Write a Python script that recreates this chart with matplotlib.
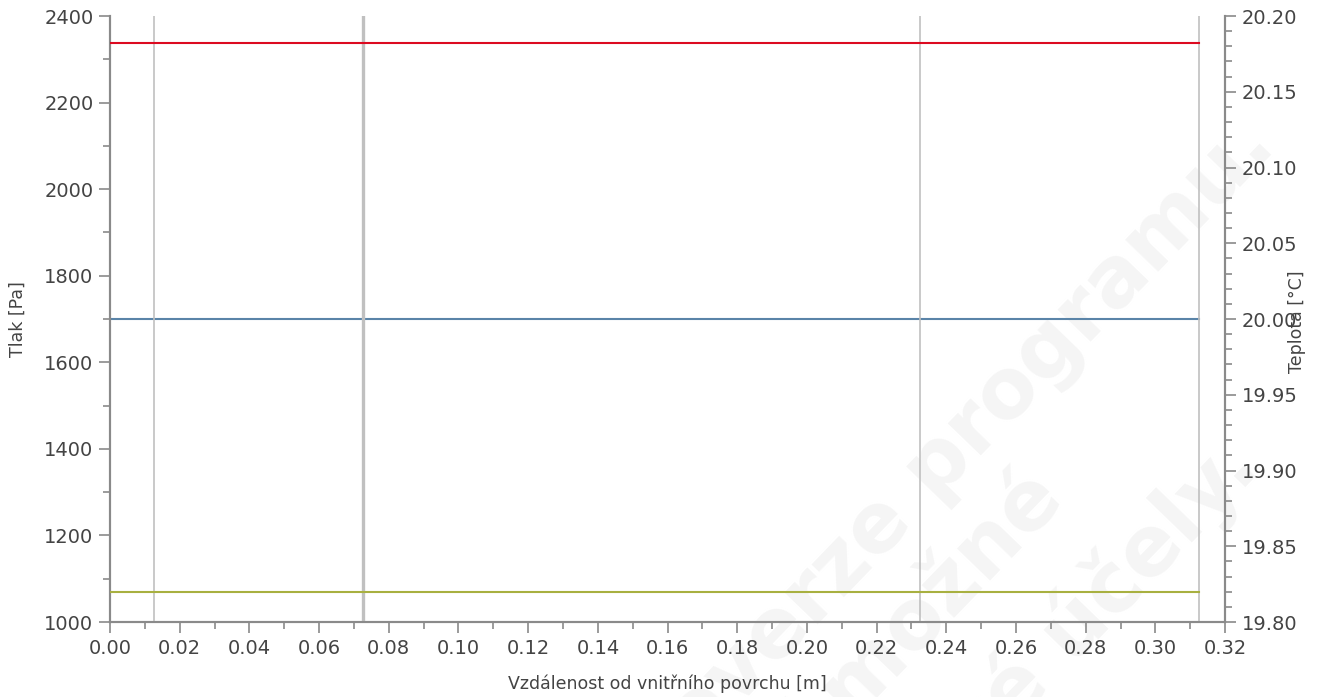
import numpy as np
import matplotlib.pyplot as plt
from matplotlib.ticker import MultipleLocator, FormatStrFormatter

# hodnoty
x_vals = [0.0, 0.3125]                    # tloušťka konstrukce [m]
p_sat = [2337, 2337]                      # tlak nasycených par [Pa]
p_par = [1070, 1070]                      # částečný tlak [Pa]
teplota = [20.0, 20.0]                    # teplota [°C]
rozhrani = [0.0125, 0.0725, 0.2325, 0.3125]  # rozhraní vrstev [m]
sirky_rozhrani = [1.2, 2.4, 1.2, 1.2]

plt.rcParams['font.family'] = ['DejaVu Sans']
sedy = '#8a8a8a'
text_barva = '#444444'

fig = plt.figure(figsize=(13.18, 6.97), dpi=100)
ax = fig.add_axes([0.0835, 0.1076, 0.846, 0.8694])
ax2 = ax.twinx()

# vodoznak
vodoznak = ['Demoverze programu.', 'Použití možné', 'pouze pro výukové účely.']
konce = [(1277, 148), (1067, 502), (1262, 470)]
for t, (px, py) in zip(vodoznak, konce):
    fig.text(px / 1318, 1 - py / 697, t, rotation=46, rotation_mode='anchor',
             ha='right', va='baseline', fontsize=60, fontweight='bold',
             color='#f5f5f5', zorder=-5)

for xr, lw in zip(rozhrani, sirky_rozhrani):
    ax.axvline(xr, color='#c0c0c0', lw=lw, zorder=1)

ax.plot(x_vals, p_sat, color='#dc0a20', lw=1.5, zorder=3)
ax.plot(x_vals, p_par, color='#a8b040', lw=1.5, zorder=3)
ax2.plot(x_vals, teplota, color='#5a84a8', lw=1.5, zorder=3)

ax.set_xlim(0, 0.32)
ax.set_ylim(1000, 2400)
ax2.set_ylim(19.8, 20.2)

ax.xaxis.set_major_locator(MultipleLocator(0.02))
ax.xaxis.set_minor_locator(MultipleLocator(0.01))
ax.xaxis.set_major_formatter(FormatStrFormatter('%.2f'))
ax.yaxis.set_major_locator(MultipleLocator(200))
ax.yaxis.set_minor_locator(MultipleLocator(100))
ax2.yaxis.set_major_locator(MultipleLocator(0.05))
ax2.yaxis.set_minor_locator(MultipleLocator(0.01))
ax2.yaxis.set_major_formatter(FormatStrFormatter('%.2f'))

for a in (ax, ax2):
    a.set_facecolor('none')
    for s in a.spines.values():
        s.set_color(sedy)
        s.set_linewidth(1.5)
    a.spines['top'].set_visible(False)
    a.tick_params(which='major', length=8, width=1.2, color=sedy,
                  labelsize=14, labelcolor=text_barva, pad=4)
    a.tick_params(which='minor', length=5, width=1.2, color=sedy)
ax.set_zorder(2)
ax.patch.set_visible(False)

ax.set_xlabel('Vzdálenost od vnitřního povrchu [m]', fontsize=12.5,
              color=text_barva)
ax.set_ylabel('Tlak [Pa]', fontsize=12.5, color=text_barva)
ax2.set_ylabel('Teplota [°C]', fontsize=12.5, color=text_barva)
ax.xaxis.set_label_coords(0.5, -0.087)
ax.yaxis.set_label_coords(-0.075, 0.5)
ax2.yaxis.set_label_coords(1.056, 0.495)

fig.savefig('out.png', dpi=100)
